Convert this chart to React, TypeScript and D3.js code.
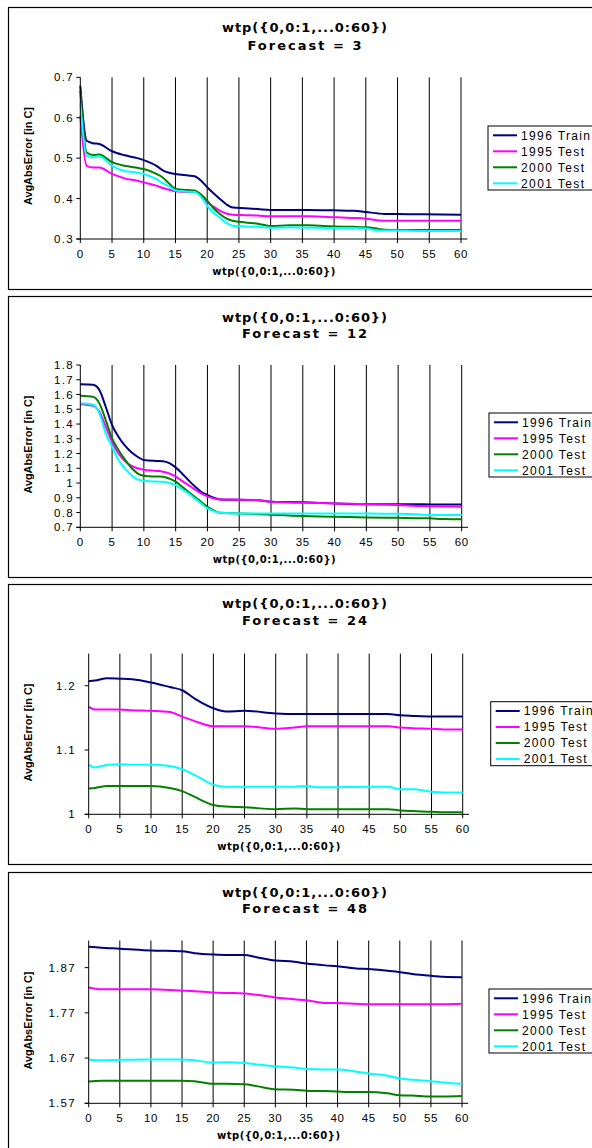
import React from "react";
import * as d3 from "d3";

const seriesNames = ["1996 Train", "1995 Test", "2000 Test", "2001 Test"];
const seriesColors = ["#000080", "#FF00FF", "#008000", "#00FFFF"];
const chartTitle = "wtp({0,0:1,...0:60})";
const xAxisTitle = "wtp({0,0:1,...0:60})";
const yAxisTitle = "AvgAbsError [in C]";
const forecasts = [3, 12, 24, 48];
const xTicks = [0, 5, 10, 15, 20, 25, 30, 35, 40, 45, 50, 55, 60];

// Panel 1: Forecast = 3
const p1X = [0, 1, 2, 3, 5, 7, 9, 10, 12, 13, 14, 15, 17, 18, 19, 20, 21, 22, 23, 24, 26, 28, 30, 33, 36, 40, 43, 45, 47, 48, 50, 54, 60];
const p1Train1996 = [0.679, 0.543, 0.537, 0.535, 0.517, 0.507, 0.5, 0.495, 0.481, 0.47, 0.464, 0.461, 0.457, 0.455, 0.445, 0.428, 0.413, 0.399, 0.386, 0.378, 0.376, 0.374, 0.372, 0.372, 0.372, 0.371, 0.37, 0.367, 0.363, 0.362, 0.362, 0.361, 0.36];
const p1Test1995 = [0.605, 0.481, 0.477, 0.477, 0.461, 0.45, 0.444, 0.44, 0.432, 0.426, 0.422, 0.418, 0.416, 0.416, 0.41, 0.391, 0.38, 0.37, 0.363, 0.36, 0.359, 0.358, 0.356, 0.356, 0.356, 0.354, 0.352, 0.35, 0.346, 0.345, 0.345, 0.345, 0.345];
const p1Test2000 = [0.667, 0.514, 0.508, 0.509, 0.49, 0.481, 0.476, 0.473, 0.461, 0.452, 0.437, 0.424, 0.421, 0.42, 0.41, 0.395, 0.376, 0.362, 0.351, 0.345, 0.341, 0.338, 0.332, 0.334, 0.334, 0.331, 0.33, 0.329, 0.325, 0.323, 0.322, 0.322, 0.322];
const p1Test2001 = [0.636, 0.506, 0.502, 0.505, 0.481, 0.468, 0.464, 0.461, 0.448, 0.438, 0.43, 0.42, 0.417, 0.416, 0.405, 0.382, 0.365, 0.353, 0.34, 0.333, 0.331, 0.33, 0.328, 0.329, 0.328, 0.327, 0.327, 0.326, 0.321, 0.321, 0.321, 0.32, 0.32];
const p1YTicks = [0.3, 0.4, 0.5, 0.6, 0.7];
const p1YDomain = [0.3, 0.7];

// Panel 2: Forecast = 12
const p2X = [0, 2, 3, 4, 5, 6, 7, 8, 9, 10, 12, 13, 14, 15, 16, 17, 18, 19, 20, 21, 22, 25, 28, 30, 35, 40, 45, 50, 53, 55, 57, 60];
const p2Train1996 = [1.669, 1.666, 1.63, 1.517, 1.393, 1.314, 1.255, 1.21, 1.178, 1.156, 1.15, 1.148, 1.135, 1.106, 1.065, 1.02, 0.978, 0.941, 0.919, 0.9, 0.889, 0.886, 0.884, 0.873, 0.87, 0.862, 0.856, 0.856, 0.856, 0.855, 0.855, 0.855];
const p2Test1995 = [1.534, 1.523, 1.483, 1.382, 1.28, 1.2, 1.15, 1.118, 1.1, 1.09, 1.082, 1.077, 1.065, 1.043, 1.015, 0.986, 0.957, 0.93, 0.91, 0.896, 0.889, 0.887, 0.884, 0.873, 0.866, 0.862, 0.856, 0.851, 0.845, 0.843, 0.841, 0.84];
const p2Test2000 = [1.592, 1.585, 1.54, 1.427, 1.303, 1.224, 1.16, 1.105, 1.066, 1.05, 1.044, 1.043, 1.03, 1.009, 0.975, 0.941, 0.906, 0.873, 0.839, 0.815, 0.798, 0.794, 0.789, 0.785, 0.776, 0.772, 0.766, 0.764, 0.762, 0.761, 0.756, 0.755];
const p2Test2001 = [1.54, 1.53, 1.472, 1.337, 1.246, 1.156, 1.1, 1.055, 1.025, 1.016, 1.01, 1.009, 1.0, 0.986, 0.958, 0.93, 0.896, 0.862, 0.828, 0.81, 0.798, 0.794, 0.794, 0.794, 0.794, 0.794, 0.793, 0.792, 0.788, 0.783, 0.783, 0.783];
const p2YTicks = [0.7, 0.8, 0.9, 1.0, 1.1, 1.2, 1.3, 1.4, 1.5, 1.6, 1.7, 1.8];
const p2YDomain = [0.7, 1.8];

// Panel 3: Forecast = 24
const p3X = [0, 1, 3, 5, 7, 10, 13, 15, 17, 20, 22, 25, 30, 33, 35, 37, 45, 48, 50, 52, 55, 57, 60];
const p3Train1996 = [1.207, 1.208, 1.2115, 1.211, 1.21, 1.205, 1.198, 1.193, 1.18, 1.165, 1.16, 1.161, 1.157, 1.156, 1.156, 1.156, 1.156, 1.156, 1.154, 1.153, 1.152, 1.152, 1.152];
const p3Test1995 = [1.167, 1.163, 1.163, 1.163, 1.162, 1.161, 1.159, 1.152, 1.145, 1.137, 1.137, 1.137, 1.133, 1.135, 1.137, 1.137, 1.137, 1.137, 1.135, 1.134, 1.133, 1.132, 1.132];
const p3Test2000 = [1.04, 1.041, 1.044, 1.044, 1.044, 1.044, 1.041, 1.036, 1.027, 1.0145, 1.012, 1.011, 1.008, 1.009, 1.008, 1.008, 1.008, 1.008, 1.006, 1.005, 1.004, 1.003, 1.003];
const p3Test2001 = [1.077, 1.073, 1.077, 1.078, 1.077, 1.077, 1.075, 1.07, 1.061, 1.046, 1.043, 1.043, 1.043, 1.043, 1.044, 1.042, 1.043, 1.043, 1.039, 1.039, 1.035, 1.034, 1.034];
const p3YTicks = [1.0, 1.1, 1.2];
const p3YDomain = [1.0, 1.25];

// Panel 4: Forecast = 48
const p4X = [0, 2, 5, 10, 15, 17, 20, 22, 25, 27, 30, 33, 35, 38, 40, 43, 45, 48, 50, 52, 55, 57, 60];
const p4Train1996 = [1.916, 1.914, 1.912, 1.908, 1.906, 1.902, 1.899, 1.898, 1.898, 1.893, 1.886, 1.883, 1.879, 1.875, 1.873, 1.868, 1.867, 1.863, 1.86, 1.856, 1.852, 1.85, 1.849];
const p4Test1995 = [1.826, 1.822, 1.822, 1.822, 1.819, 1.818, 1.815, 1.814, 1.813, 1.81, 1.804, 1.8, 1.798, 1.792, 1.792, 1.79, 1.789, 1.789, 1.789, 1.789, 1.789, 1.789, 1.79];
const p4Test2000 = [1.618, 1.62, 1.62, 1.62, 1.62, 1.619, 1.613, 1.613, 1.612, 1.608, 1.601, 1.6, 1.598, 1.597, 1.596, 1.595, 1.595, 1.592, 1.588, 1.587, 1.585, 1.585, 1.586];
const p4Test2001 = [1.667, 1.665, 1.666, 1.667, 1.667, 1.665, 1.66, 1.661, 1.659, 1.656, 1.652, 1.649, 1.646, 1.645, 1.645, 1.64, 1.636, 1.631, 1.625, 1.622, 1.619, 1.616, 1.613];
const p4YTicks = [1.57, 1.67, 1.77, 1.87];
const p4YDomain = [1.57, 1.93];

const panelsData = [
  { xs: p1X, series: [p1Train1996, p1Test1995, p1Test2000, p1Test2001], yTicks: p1YTicks, yDomain: p1YDomain },
  { xs: p2X, series: [p2Train1996, p2Test1995, p2Test2000, p2Test2001], yTicks: p2YTicks, yDomain: p2YDomain },
  { xs: p3X, series: [p3Train1996, p3Test1995, p3Test2000, p3Test2001], yTicks: p3YTicks, yDomain: p3YDomain },
  { xs: p4X, series: [p4Train1996, p4Test1995, p4Test2000, p4Test2001], yTicks: p4YTicks, yDomain: p4YDomain },
];

const layouts = [
  { fTop: 7, fBot: 289, x0: 80.3, x60: 461, yTop: 77.3, yBot: 239, labR: 74, t1: 32, t2: 49.5, lx: 488, ly: 126, yc: 156 },
  { fTop: 296, fBot: 577, x0: 80.3, x60: 461.7, yTop: 365, yBot: 527.3, labR: 74, t1: 321.7, t2: 337.5, lx: 489, ly: 413, yc: 444.5 },
  { fTop: 584, fBot: 864, x0: 88.7, x60: 462.7, yTop: 653.6, yBot: 814.3, labR: 76, t1: 608, t2: 625, lx: 490.7, ly: 701.7, yc: 732.5 },
  { fTop: 872, fBot: 1170, x0: 88.7, x60: 462, yTop: 940.5, yBot: 1103.3, labR: 76, t1: 897, t2: 913, lx: 489, ly: 989, yc: 1020.5 },
];

const fmt = (v: number) => String(+v.toFixed(2));
const FONT = "Liberation Sans, Arial, sans-serif";
const BOLDFONT = "DejaVu Sans, sans-serif";

function Panel({ idx }: { idx: number }) {
  const L = layouts[idx];
  const D = panelsData[idx];
  const x = d3.scaleLinear().domain([0, 60]).range([L.x0, L.x60]);
  const y = d3.scaleLinear().domain(D.yDomain).range([L.yBot, L.yTop]);
  const line = d3
    .line<number>()
    .x((_, i) => x(D.xs[i]))
    .y((d) => y(d))
    .curve(d3.curveMonotoneX);
  const forecastText = "Forecast = " + forecasts[idx];
  const cx = 304.5;
  return (
    <g>
      <rect x={8.5} y={L.fTop + 0.5} width={620} height={L.fBot - L.fTop} fill="#fff" stroke="#000" strokeWidth={1.2} />
      <text x={cx} y={L.t1} textAnchor="middle" fontFamily={BOLDFONT} fontWeight="bold" fontSize={13} textLength={165} lengthAdjust="spacing">{chartTitle}</text>
      <text x={cx} y={L.t2} textAnchor="middle" fontFamily={BOLDFONT} fontWeight="bold" fontSize={13} textLength={forecasts[idx] < 10 ? 114 : 125} lengthAdjust="spacing">{forecastText}</text>
      {xTicks.filter((t) => t > 0).map((t) => (
        <line key={"g" + t} x1={x(t)} x2={x(t)} y1={L.yTop} y2={L.yBot} stroke="#000" strokeWidth={1} />
      ))}
      {D.series.map((s, i) => (
        <path key={"s" + i} d={line(s) || ""} fill="none" stroke={seriesColors[i]} strokeWidth={2} />
      ))}
      <line x1={x(0)} x2={x(0)} y1={L.yTop} y2={L.yBot} stroke="#000" strokeWidth={1} />
      <line x1={x(0) - 4} x2={x(61)} y1={L.yBot} y2={L.yBot} stroke="#000" strokeWidth={1} />
      {D.yTicks.map((t) => (
        <g key={"yt" + t}>
          <line x1={x(0) - 4} x2={x(0)} y1={y(t)} y2={y(t)} stroke="#000" strokeWidth={1} />
          <text x={L.labR} y={y(t)} dy="0.36em" textAnchor="end" fontFamily={FONT} fontSize={11.5} letterSpacing={1.3}>{fmt(t)}</text>
        </g>
      ))}
      {xTicks.map((t) => (
        <g key={"xt" + t}>
          <line x1={x(t)} x2={x(t)} y1={L.yBot} y2={L.yBot + 4} stroke="#000" strokeWidth={1} />
          <text x={x(t)} y={L.yBot + 19} textAnchor="middle" fontFamily={FONT} fontSize={11.5} letterSpacing={0.6}>{String(t)}</text>
        </g>
      ))}
      <text x={(x(0) + x(61)) / 2} y={L.yBot + 36} textAnchor="middle" fontFamily={BOLDFONT} fontWeight="bold" fontSize={10} textLength={123} lengthAdjust="spacing">{xAxisTitle}</text>
      <text transform={`translate(28.5,${L.yc}) rotate(-90)`} textAnchor="middle" dy="0.35em" fontFamily={FONT} fontWeight="bold" fontSize={11} textLength={98} lengthAdjust="spacingAndGlyphs">{yAxisTitle}</text>
      <rect x={L.lx} y={L.ly} width={130} height={64} fill="#fff" stroke="#000" strokeWidth={1} />
      {seriesNames.map((n, i) => (
        <g key={"l" + i}>
          <line x1={L.lx + 5} x2={L.lx + 29} y1={L.ly + 9.3 + i * 16} y2={L.ly + 9.3 + i * 16} stroke={seriesColors[i]} strokeWidth={2} />
          <text x={L.lx + 33} y={L.ly + 9.3 + i * 16} dy="0.36em" fontFamily={FONT} fontSize={12} textLength={i === 0 ? 69 : 63} lengthAdjust="spacing">{n}</text>
        </g>
      ))}
    </g>
  );
}

export default function App() {
  return (
    <svg width={592} height={1148} style={{ position: "absolute", left: 0, top: 0, background: "#fff" }}>
      <rect x={0} y={0} width={592} height={1148} fill="#fff" />
      {[0, 1, 2, 3].map((i) => (
        <Panel key={i} idx={i} />
      ))}
    </svg>
  );
}
